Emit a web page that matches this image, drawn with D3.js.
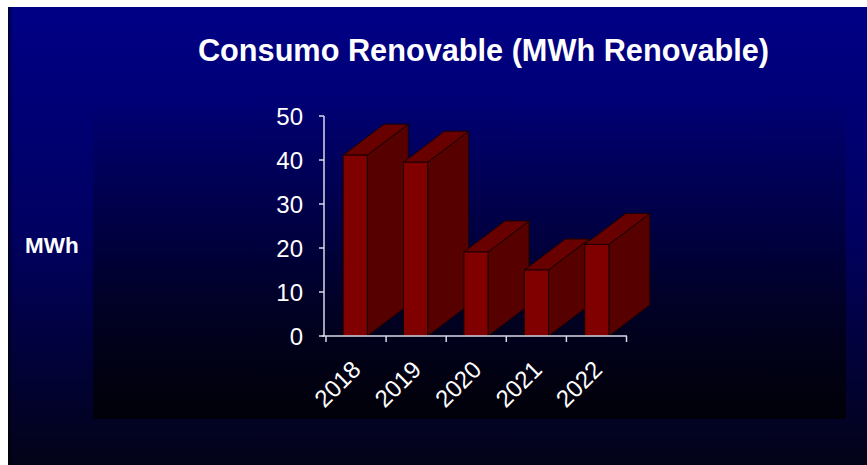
<!DOCTYPE html>
<html>
<head>
<meta charset="utf-8">
<script src="https://cdn.jsdelivr.net/npm/d3@7"></script>
<style>
  body { margin: 0; background: #fff; }
  svg { display: block; font-family: "Liberation Sans", Arial, sans-serif; }
</style>
</head>
<body>
<div class="chart"></div>
<script>
// data
var years = ["2018", "2019", "2020", "2021", "2022"]
var mwh = [41.1, 39.5, 19.1, 15.0, 20.8]
var yTicks = [0, 10, 20, 30, 40, 50]

var width = 867, height = 465
var depthX = 41, depthY = -31

const svg = d3.select(".chart")
    .append("svg")
    .attr("width", width)
    .attr("height", height)

var defs = svg.append("defs")

var bg = defs.append("linearGradient").attr("id", "bg")
    .attr("x1", 0).attr("y1", 0).attr("x2", 0).attr("y2", 1)
bg.append("stop").attr("offset", "0%").attr("stop-color", "#000086")
bg.append("stop").attr("offset", "50%").attr("stop-color", "#000060")
bg.append("stop").attr("offset", "100%").attr("stop-color", "#030318")

var shade = defs.append("linearGradient").attr("id", "shade")
    .attr("x1", 0).attr("y1", 0).attr("x2", 0).attr("y2", 1)
shade.append("stop").attr("offset", "0%").attr("stop-color", "#000").attr("stop-opacity", 0)
shade.append("stop").attr("offset", "100%").attr("stop-color", "#000").attr("stop-opacity", 0.75)

var edge = defs.append("linearGradient").attr("id", "edge")
    .attr("x1", 0).attr("y1", 0).attr("x2", 1).attr("y2", 0)
edge.append("stop").attr("offset", "0%").attr("stop-color", "#000").attr("stop-opacity", 0.6)
edge.append("stop").attr("offset", "100%").attr("stop-color", "#000").attr("stop-opacity", 0)

// slide background
svg.append("rect")
    .attr("x", 8).attr("y", 7)
    .attr("width", width - 8).attr("height", height - 7)
    .attr("fill", "url(#bg)")
svg.append("rect")
    .attr("x", 8).attr("y", 7)
    .attr("width", 5).attr("height", height - 7)
    .attr("fill", "url(#edge)")

// plot area, a bit darker towards the bottom
svg.append("rect")
    .attr("x", 93).attr("y", 95)
    .attr("width", 753).attr("height", 324)
    .attr("fill", "url(#shade)")

svg.append("text")
    .attr("x", 483.5).attr("y", 61)
    .attr("text-anchor", "middle")
    .attr("fill", "#fff")
    .attr("font-weight", "bold")
    .attr("font-size", 30.7)
    .text("Consumo Renovable (MWh Renovable)")

svg.append("text")
    .attr("x", 25).attr("y", 253)
    .attr("fill", "#fff")
    .attr("font-weight", "bold")
    .attr("font-size", 22.5)
    .text("MWh")

var x = d3.scaleBand()
    .domain(years)
    .range([325, 627])

var y = d3.scaleLinear()
    .domain([0, 50])
    .range([336, 116])

var axisColor = "#d8d8e8"

// y axis
var yAxis = svg.append("g")
yAxis.append("line")
    .attr("x1", 324).attr("x2", 324)
    .attr("y1", y(50)).attr("y2", y(0))
    .attr("stroke", axisColor).attr("stroke-width", 1.5)
yAxis.selectAll(".tk")
    .data(yTicks)
    .enter()
    .append("line")
    .attr("x1", 319).attr("x2", 324)
    .attr("y1", function(d){ return y(d) })
    .attr("y2", function(d){ return y(d) })
    .attr("stroke", axisColor).attr("stroke-width", 1.5)
yAxis.selectAll("text")
    .data(yTicks)
    .enter()
    .append("text")
    .attr("x", 303)
    .attr("y", function(d){ return y(d) })
    .attr("dy", "0.36em")
    .attr("text-anchor", "end")
    .attr("fill", "#fff")
    .attr("font-size", 24)
    .text(function(d){ return d })

// bars, drawn left to right so the next front face hides the previous side
var bw = x.bandwidth() * 0.4
var bars = svg.append("g")
    .selectAll("g")
    .data(years.map(function(yr, i){ return {year: yr, v: mwh[i]} }))
    .enter()
    .append("g")

function pts(arr){ return arr.map(function(p){ return p.join(",") }).join(" ") }

bars.append("polygon")
    .attr("points", function(d){
        var x1 = x(d.year) + (x.bandwidth() - bw) / 2 + bw, yt = y(d.v), yb = y(0)
        return pts([[x1, yt], [x1 + depthX, yt + depthY], [x1 + depthX, yb + depthY], [x1, yb]])
    })
    .attr("fill", "#560000")
    .attr("stroke", "#1a0000").attr("stroke-width", 1)

bars.append("polygon")
    .attr("points", function(d){
        var x0 = x(d.year) + (x.bandwidth() - bw) / 2, yt = y(d.v)
        return pts([[x0, yt], [x0 + bw, yt], [x0 + bw + depthX, yt + depthY], [x0 + depthX, yt + depthY]])
    })
    .attr("fill", "#680000")
    .attr("stroke", "#1a0000").attr("stroke-width", 1)

bars.append("rect")
    .attr("x", function(d){ return x(d.year) + (x.bandwidth() - bw) / 2 })
    .attr("y", function(d){ return y(d.v) })
    .attr("width", bw)
    .attr("height", function(d){ return y(0) - y(d.v) })
    .attr("fill", "#800000")
    .attr("stroke", "#1a0000").attr("stroke-width", 1)

// x axis
var xAxis = svg.append("g")
xAxis.append("line")
    .attr("x1", 322).attr("x2", 627)
    .attr("y1", y(0)).attr("y2", y(0))
    .attr("stroke", axisColor).attr("stroke-width", 1.5)
xAxis.selectAll(".tk")
    .data(years.concat(["end"]))
    .enter()
    .append("line")
    .attr("x1", function(d, i){ return 326 + i * x.step() * (300.5 / 302) })
    .attr("x2", function(d, i){ return 326 + i * x.step() * (300.5 / 302) })
    .attr("y1", y(0)).attr("y2", y(0) + 6)
    .attr("stroke", axisColor).attr("stroke-width", 1.5)
xAxis.selectAll("text")
    .data(years)
    .enter()
    .append("text")
    .attr("transform", function(d){
        return "translate(" + (x(d) + x.bandwidth() / 2 + 7) + ",371) rotate(-45)"
    })
    .attr("text-anchor", "end")
    .attr("fill", "#fff")
    .attr("font-size", 24)
    .text(function(d){ return d })
</script>
</body>
</html>
